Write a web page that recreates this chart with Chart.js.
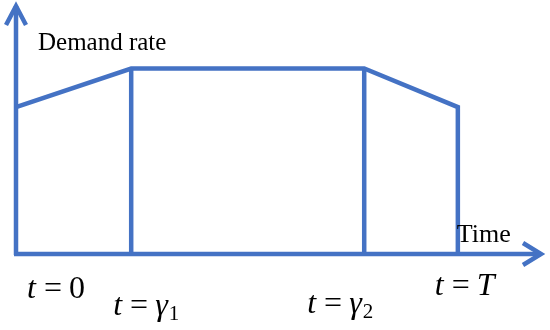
<!DOCTYPE html>
<html>
<head>
<meta charset="utf-8">
<script src="https://cdn.jsdelivr.net/npm/chart.js@4.4.1/dist/chart.umd.min.js"></script>
<style>
  html, body { margin: 0; padding: 0; background: #fff; }
  #wrap { width: 550px; height: 330px; }
</style>
</head>
<body>
<div id="wrap"><canvas id="myChart"></canvas></div>
<script>
//Data
const timeMarks = [0, 2.19, 6.62, 8.40];          // t = 0, γ1, γ2, T
const demandAtMarks = [5.9, 7.45, 7.45, 5.9];     // demand rate at each mark
const markLabels = [['0', false, ''], ['γ', true, '1'], ['γ', true, '2'], ['T', true, '']];
const xLabel = 'Time';
const yLabel = 'Demand rate';

const blue = 'rgb(68, 114, 196)';
const serif = '"Liberation Serif", "Times New Roman", serif';

// demand curve, ends with a drop to the axis at T
const demandPts = timeMarks.map((t, i) => ({x: t, y: demandAtMarks[i]}));
demandPts.push({x: timeMarks[3], y: 0});

const lineStyle = {
   borderColor: blue,
   borderWidth: 4.5,
   pointRadius: 0,
   fill: false,
   tension: 0,
   borderJoinStyle: 'miter',
   clip: false
};

//Axes, arrows and text
const decorPlugin = {
   id: 'decor',
   afterDatasetsDraw(chart) {
      const {ctx, scales: {x, y}} = chart;
      const x0 = x.getPixelForValue(0), y0 = y.getPixelForValue(0);
      const xEnd = x.getPixelForValue(10), yEnd = y.getPixelForValue(10);
      ctx.save();
      ctx.strokeStyle = blue;
      ctx.lineWidth = 4.5;
      ctx.lineCap = 'butt';
      ctx.lineJoin = 'miter';
      // axes
      ctx.beginPath();
      ctx.moveTo(x0, y0 + 1);
      ctx.lineTo(x0, yEnd + 1);
      ctx.moveTo(x0 - 2, y0);
      ctx.lineTo(xEnd - 1, y0);
      ctx.stroke();
      // arrow heads
      ctx.beginPath();
      ctx.moveTo(x0 - 10, yEnd + 20);
      ctx.lineTo(x0, yEnd + 1);
      ctx.lineTo(x0 + 10, yEnd + 20);
      ctx.moveTo(xEnd - 19, y0 - 11);
      ctx.lineTo(xEnd - 1, y0);
      ctx.lineTo(xEnd - 19, y0 + 11);
      ctx.stroke();

      // axis titles
      ctx.fillStyle = '#000';
      ctx.textBaseline = 'alphabetic';
      ctx.font = '25px ' + serif;
      ctx.fillText(yLabel, x0 + 22, y.getPixelForValue(8.2));
      ctx.font = '26px ' + serif;
      ctx.fillText(xLabel, x.getPixelForValue(8.38), y0 - 12);

      // tick labels "t = ..."
      const dx = [11, -18, -57, -23];
      const dy = [44, 61, 59, 41];
      markLabels.forEach(([v, ital, sub], i) => {
         let px = x.getPixelForValue(timeMarks[i]) + dx[i];
         const py = y0 + dy[i];
         ctx.font = 'italic 32px ' + serif;
         ctx.fillText('t', px, py);
         px += ctx.measureText('t').width + 8;
         ctx.font = '32px ' + serif;
         ctx.fillText('=', px, py);
         px += ctx.measureText('=').width + 7;
         ctx.font = (ital ? 'italic ' : '') + '32px ' + serif;
         ctx.fillText(v, px, py);
         px += ctx.measureText(v).width + 1;
         if (sub) {
            ctx.font = '21px ' + serif;
            ctx.fillText(sub, px, py + 5);
         }
      });
      ctx.restore();
   }
};

new Chart(document.getElementById('myChart'), {
   type: 'line',
   data: {
      datasets: [
         Object.assign({data: demandPts}, lineStyle),
         Object.assign({data: [{x: timeMarks[1], y: 0}, {x: timeMarks[1], y: demandAtMarks[1]}]}, lineStyle),
         Object.assign({data: [{x: timeMarks[2], y: 0}, {x: timeMarks[2], y: demandAtMarks[2]}]}, lineStyle)
      ]
   },
   options: {
      responsive: true,
      maintainAspectRatio: false,
      animation: false,
      layout: { padding: { left: 16, right: 8, top: 5, bottom: 76 } },
      scales: {
         x: { type: 'linear', min: 0, max: 10, display: false },
         y: { type: 'linear', min: 0, max: 10, display: false }
      },
      plugins: {
         legend: { display: false },
         tooltip: { enabled: false }
      }
   },
   plugins: [decorPlugin]
});
</script>
</body>
</html>
